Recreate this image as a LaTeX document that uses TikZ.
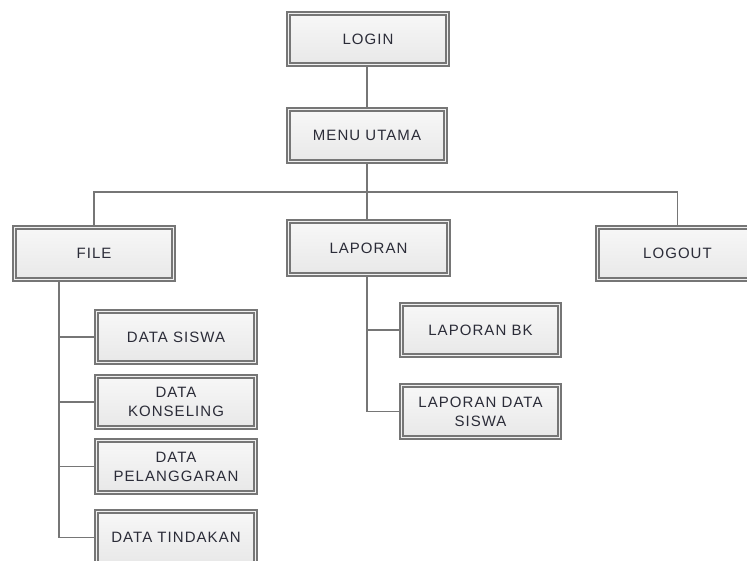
\documentclass[tikz,border=0pt]{standalone}
\usepackage{fontspec}
\setmainfont[LetterSpace=7]{Liberation Sans}
\usetikzlibrary{backgrounds}
\definecolor{edge}{HTML}{767676}
\definecolor{gapc}{HTML}{F0F0F0}
\definecolor{txt}{HTML}{2B2C38}
\begin{document}
\begin{tikzpicture}[x=1pt,y=-1pt,
  menubox/.style={draw=edge, line width=1.4pt, double=gapc, double distance=1.4pt,
    top color=white!97!black, bottom color=white!91!black,
    minimum width=159pt, minimum height=51pt, inner sep=0pt, align=center,
    text=txt, font=\fontsize{15}{19}\selectfont},
  conn/.style={draw=edge, line width=1.7pt}]
\useasboundingbox (0,0) rectangle (747,561);
\clip (0,0) rectangle (747,561);
\node[menubox] (login) at (368,39) {LOGIN};
\node[menubox, minimum width=157pt, minimum height=52pt] (menu) at (367,135.5) {MENU UTAMA};
\node[menubox, minimum width=160pt, minimum height=53pt] (lap) at (368.5,248) {LAPORAN};
\node[menubox, minimum height=52pt] (file) at (94,253.5) {FILE};
\node[menubox, minimum width=160pt, minimum height=52pt] (logout) at (677.5,253.5) {LOGOUT};
\node[menubox] (dsiswa) at (176,337) {DATA SISWA};
\node[menubox] (dkons) at (176,402) {DATA\\KONSELING};
\node[menubox, minimum height=52pt] (dpel) at (176,466.5) {DATA\\PELANGGARAN};
\node[menubox, minimum height=52pt] (dtind) at (176,537.5) {DATA TINDAKAN};
\node[menubox, minimum width=158pt] (lbk) at (480.5,330) {LAPORAN BK};
\node[menubox, minimum width=158pt, minimum height=52pt] (lds) at (480.5,411.5) {LAPORAN DATA\\SISWA};
\coordinate (bus) at (367,192);
\coordinate (ftrunk) at (59,282);
\coordinate (ltrunk) at (367,277);
\begin{scope}[on background layer]
\fill[white] (0,0) rectangle (747,561);
\draw[conn] (login.south -| menu.north) -- (menu.north);
\draw[conn] (menu.south) -- (lap.north -| menu.south);
\draw[conn] (bus) -| (file.north);
\draw[conn] (bus) -| (logout.north);
\draw[conn] (file.south -| ftrunk) |- (dsiswa.west);
\draw[conn] (file.south -| ftrunk) |- (dkons.west);
\draw[conn] (file.south -| ftrunk) |- (dpel.west);
\draw[conn] (file.south -| ftrunk) |- (dtind.west);
\draw[conn] (lap.south -| ltrunk) |- (lbk.west);
\draw[conn] (lap.south -| ltrunk) |- (lds.west);
\end{scope}
\end{tikzpicture}
\end{document}
